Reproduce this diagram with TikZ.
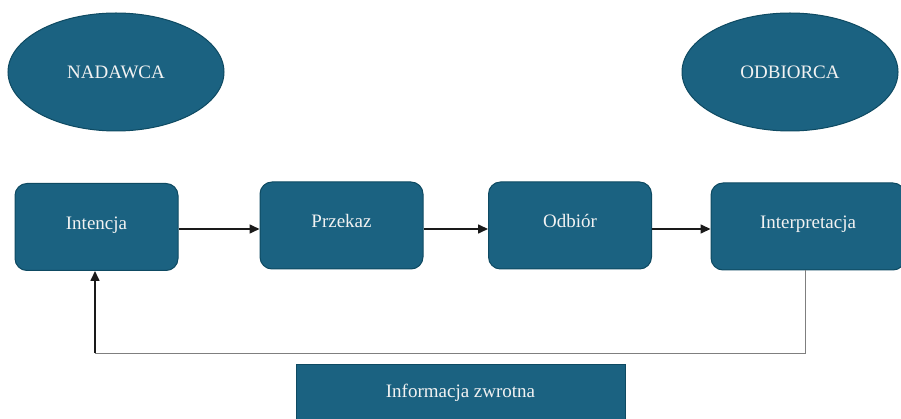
\documentclass[tikz,border=0pt]{standalone}
\usepackage{fontspec}
\setmainfont{LiberationSerif}[Extension=.ttf, UprightFont=*-Regular, BoldFont=*-Bold]
\usetikzlibrary{shapes.geometric,arrows.meta}
\definecolor{boxfill}{HTML}{1B6281}
\definecolor{boxline}{HTML}{0E4A62}
\definecolor{txt}{HTML}{F2F2F2}
\definecolor{fbgray}{HTML}{7F7F7F}
\definecolor{arrcol}{HTML}{1A1A1A}
\tikzset{
  basefont/.style={font=\rmfamily\fontsize{19}{22}\selectfont, text=txt},
  oval/.style={ellipse, draw=boxline, line width=1pt, fill=boxfill, basefont,
    minimum width=216pt, minimum height=118pt, inner sep=0pt},
  stepbox/.style={rectangle, rounded corners=12pt, draw=boxline, line width=1pt,
    fill=boxfill, basefont, minimum width=163pt, minimum height=87pt, inner sep=0pt,
    text height=12.6pt, text depth=8pt},
  fbbox/.style={rectangle, draw=boxline, line width=1pt, fill=boxfill, basefont,
    minimum width=329pt, minimum height=66pt, inner sep=0pt,
    text height=12.6pt, text depth=12pt},
  arr/.style={draw=arrcol, line width=1.6pt, -{Triangle[length=10pt,width=9pt]}},
  fbline/.style={draw=fbgray, line width=1pt},
}
\begin{document}
\begin{tikzpicture}[x=1pt,y=-1pt]
\useasboundingbox (0,0) rectangle (901,419);
\clip (0,0) rectangle (901,419);
\node[oval] (nad) at (116,72) {NADAWCA};
\node[oval] (odb) at (790,72) {ODBIORCA};
\node[stepbox] (int) at (96.5,227) {Intencja};
\node[stepbox] (prz) at (341.5,225.5) {Przekaz};
\node[stepbox] (odbr) at (570,225.5) {Odbiór};
\node[stepbox, minimum width=194pt] (interp) at (808,226.5) {Interpretacja};
\node[fbbox] (fb) at (460.5,397) {Informacja zwrotna};
\coordinate (row) at (0,229);
\coordinate (c1) at (805,353);
\coordinate (c2) at (95,353);
\draw[arr] (int.east |- row) -- (prz.west |- row);
\draw[arr] (prz.east |- row) -- (odbr.west |- row);
\draw[arr] (odbr.east |- row) -- (interp.west |- row);
\draw[fbline] (interp.south -| c1) -- (c1) -- (c2);
\draw[arr] (c2) -- (int.south -| c2);
\end{tikzpicture}
\end{document}
